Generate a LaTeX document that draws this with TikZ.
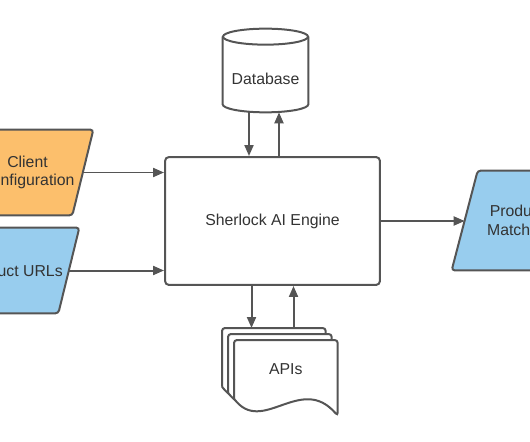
\documentclass[tikz,border=0pt]{standalone}
\usepackage{fontspec}
\setmainfont{Liberation Sans}
\usetikzlibrary{calc,backgrounds,arrows.meta}
\definecolor{edgegray}{HTML}{555555}
\definecolor{textgray}{HTML}{333333}
\definecolor{inorange}{HTML}{FCBF6C}
\definecolor{inblue}{HTML}{98CDEE}
\tikzset{
  flow/.style={line width=0.4mm,draw=edgegray,-{Triangle[length=2.2mm,width=1.8mm]}},
  outline/.style={line width=0.4mm,draw=edgegray},
  label/.style={font=\fontsize{9}{10.5}\selectfont,text=textgray,align=center,inner sep=0pt},
  engine/.style={label,outline,rounded corners=0.8mm,minimum width=4.3cm,minimum height=2.56cm},
  ioblock/.style={label,minimum height=#1},
  docpage/.style={label,minimum width=2.06cm,minimum height=1.16cm,anchor=north west},
  tank/.style={label,minimum width=1.7cm,minimum height=1.34cm}
}

\begin{document}
\begin{tikzpicture}[x=0.02cm,y=-0.02cm]
  \useasboundingbox (0,0) rectangle (530,442);
  \clip (0,0) rectangle (530,442);

  \node [engine] (box) at (272.5,221) {Sherlock AI Engine};
  \node [tank] (db) at (265.5,78.5) {Database};
  \node [ioblock=1.7cm,minimum width=2.2cm] (client) at (27.5,172.5) {Client\\Configuration};
  \node [ioblock=1.7cm,minimum width=2.2cm] (urls) at (13.5,270.5) {Product URLs};
  \node [ioblock=1.98cm,minimum width=2.08cm] (match) at (517,220.5) {Product\\Matches};
  \node [docpage] (apiA) at (222,328) {};
  \node [docpage] (apiB) at ($(apiA.north west)+(6,6)$) {};
  \node [docpage] (apiC) at ($(apiB.north west)+(6,6)$) {APIs};

  \begin{scope}[on background layer]
    \foreach \n/\c/\s in {client/inorange/10.5,urls/inblue/10.5,match/inblue/13}
      \draw[outline,fill=\c,rounded corners=0.6mm] ($(\n.north west)+(\s,0)$) -- ($(\n.north east)+(\s,0)$)
        -- ($(\n.south east)+(-\s,0)$) -- ($(\n.south west)+(-\s,0)$) -- cycle;
    \foreach \d in {apiA,apiB,apiC}
      \draw[outline,fill=white,rounded corners=0.6mm] (\d.south west) -- (\d.north west) -- (\d.north east)
        -- ($(\d.south east)+(0,17)$) [sharp corners] .. controls +(-37,-43) and +(28,38) .. (\d.south west);
  \end{scope}

  % database drum
  \draw[outline] ($(db.north west)+(0,-8)$) -- ($(db.south west)+(0,-8)$)
    .. controls +(0,4.4) and +(-23.5,0) .. (db.south)
    .. controls +(23.5,0) and +(0,4.4) .. ($(db.south east)+(0,-8)$) -- ($(db.north east)+(0,-8)$);
  \draw[outline] ($(db.north)+(0,-8)$) ellipse [x radius=42.5,y radius=8];

  \coordinate (dbin) at ($(box.north)+(-23.5,0)$);
  \coordinate (dbout) at ($(box.north)+(6.5,0)$);
  \coordinate (apiout) at ($(box.south)+(-21,0)$);
  \coordinate (apiin) at ($(box.south)+(21,0)$);

  \draw[flow] (dbin |- db.south) -- (dbin);
  \draw[flow] (dbout) -- (dbout |- db.south);
  \draw[flow] (apiout) -- (apiout |- apiA.north);
  \draw[flow] (apiin |- apiA.north) -- (apiin);
  \draw[flow] (client.east) -- (client.east -| box.west);
  \draw[flow] (urls.east) -- (urls.east -| box.west);
  \draw[flow] (box.east) -- (box.east -| match.west);
\end{tikzpicture}
\end{document}
